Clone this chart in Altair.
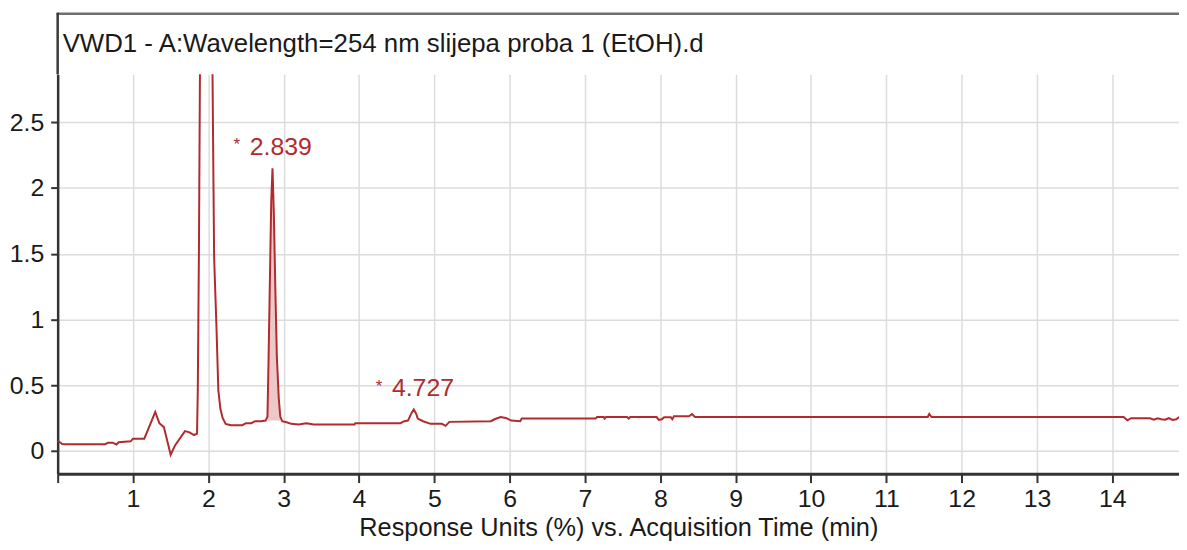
import altair as alt
import pandas as pd

# ---- data ----
time_min = [0.00, 0.03, 0.06, 0.10, 0.30, 0.63, 0.67, 0.73, 0.78, 0.81, 0.97, 1.00, 1.15, 1.22,
            1.295, 1.35, 1.41, 1.50, 1.56, 1.69, 1.75, 1.81, 1.85,
            1.86, 1.875, 1.89, 1.93, 1.98, 2.03, 2.055, 2.077, 2.107, 2.133, 2.16, 2.19, 2.23,
            2.30, 2.45, 2.50, 2.57, 2.62, 2.70, 2.76, 2.785, 2.80, 2.815, 2.835, 2.852, 2.87,
            2.89, 2.91, 2.935, 2.955, 2.98, 3.05, 3.10, 3.20, 3.30, 3.40, 3.94, 3.95, 4.55,
            4.60, 4.65, 4.70, 4.727, 4.76, 4.78, 4.85, 4.95, 5.10, 5.15, 5.20, 5.75, 5.80,
            5.88, 5.95, 6.02, 6.14, 6.16, 7.14, 7.16, 7.25, 7.26, 7.28, 7.56, 7.58, 7.60,
            7.95, 7.98, 8.02, 8.05, 8.14, 8.16, 8.18, 8.38, 8.42, 8.46, 11.55, 11.57, 11.60,
            14.15, 14.20, 14.25, 14.50, 14.55, 14.60, 14.65, 14.70, 14.75, 14.80, 14.85, 14.885]
response = [0.075, 0.065, 0.052, 0.05, 0.05, 0.05, 0.062, 0.062, 0.048, 0.065, 0.072, 0.092, 0.092, 0.19,
            0.295, 0.21, 0.18, -0.03, 0.043, 0.15, 0.14, 0.12, 0.13,
            0.45, 1.5, 3.0, 5.5, 7.0, 5.0, 2.9, 1.47, 0.96, 0.46, 0.32, 0.25, 0.205,
            0.195, 0.195, 0.21, 0.21, 0.225, 0.225, 0.23, 0.26, 0.71, 1.22, 1.9, 2.15, 1.8,
            1.22, 0.71, 0.40, 0.26, 0.225, 0.215, 0.205, 0.20, 0.21, 0.20, 0.20, 0.21, 0.21,
            0.225, 0.23, 0.29, 0.315, 0.28, 0.245, 0.225, 0.205, 0.205, 0.19, 0.22, 0.225, 0.24,
            0.257, 0.25, 0.23, 0.225, 0.245, 0.245, 0.257, 0.257, 0.245, 0.257, 0.257, 0.245, 0.257,
            0.257, 0.235, 0.24, 0.255, 0.255, 0.24, 0.262, 0.262, 0.28, 0.257, 0.257, 0.28, 0.257,
            0.257, 0.232, 0.248, 0.248, 0.237, 0.248, 0.24, 0.237, 0.248, 0.235, 0.24, 0.257]

peak_times = [2.839, 4.727]
peak_heights = [2.15, 0.315]
peak_labels = ["2.839", "4.727"]

x_ticks = list(range(0, 15))
y_ticks = [0, 0.5, 1, 1.5, 2, 2.5]

chart_title = "VWD1 - A:Wavelength=254 nm slijepa proba 1 (EtOH).d"
x_title = "Response Units (%) vs. Acquisition Time (min)"

# ---- styling ----
FONT = "Arial, 'Liberation Sans', sans-serif"
RED = "#b02a2e"
W, H = 1129, 402

trace = pd.DataFrame({"t": time_min, "v": response})
peaks = pd.DataFrame({"t": peak_times, "v": peak_heights, "label": peak_labels})
frame = pd.DataFrame({"label": [chart_title]})

xs = alt.Scale(domain=[0, 14.885], nice=False, zero=False)
ys = alt.Scale(domain=[-0.174, 2.865], nice=False, zero=False)

x_axis = alt.Axis(values=x_ticks, format="d",
                  labelExpr="datum.value == 0 ? '' : datum.label",
                  grid=True, gridColor="#dcdcdc", gridWidth=1.5,
                  domainColor="#333333", domainWidth=3, tickColor="#333333", tickWidth=2,
                  tickSize=9, labelFont=FONT, labelFontSize=25, labelColor="#1a1a1a",
                  labelBaseline="alphabetic", labelPadding=24, labelFlush=False,
                  labelOverlap=False, title=x_title, titleFont=FONT, titleFontSize=25.5,
                  titleFontWeight="normal", titleColor="#1a1a1a",
                  titleBaseline="alphabetic", titleY=62)
y_axis = alt.Axis(values=y_ticks, format="~g", grid=True, gridColor="#dcdcdc", gridWidth=1.5,
                  domainColor="#333333", domainWidth=2.5, tickColor="#333333", tickWidth=2,
                  tickSize=7, labelPadding=7, labelFont=FONT, labelFontSize=25,
                  labelColor="#1a1a1a", title=None)

base = alt.Chart(trace)

area = base.transform_filter(
    alt.FieldRangePredicate(field="t", range=[2.785, 2.955])
).transform_calculate(base="0.23").mark_area(color="#ecc8c8", clip=True).encode(
    x=alt.X("t:Q", scale=xs, axis=x_axis),
    y=alt.Y("v:Q", scale=ys, axis=y_axis),
    y2="base:Q",
)

line = base.mark_line(color=RED, strokeWidth=2, clip=True).encode(
    x=alt.X("t:Q", scale=xs, axis=x_axis),
    y=alt.Y("v:Q", scale=ys, axis=y_axis),
)

num = alt.Chart(peaks).mark_text(color=RED, font=FONT, fontSize=25, align="left",
                                  baseline="alphabetic", dx=-22, dy=-13).encode(
    x=alt.X("t:Q", scale=xs), y=alt.Y("v:Q", scale=ys), text="label:N")
star = alt.Chart(peaks).mark_text(color=RED, font=FONT, fontSize=17, align="center",
                                   baseline="alphabetic", dx=-35, dy=-18, text="*").encode(
    x=alt.X("t:Q", scale=xs), y=alt.Y("v:Q", scale=ys))

title_txt = alt.Chart(frame).mark_text(font=FONT, fontSize=26, color="#1a1a1a", align="left",
                                        baseline="alphabetic").encode(
    x=alt.value(5), y=alt.value(-23), text="label:N")
top_border = alt.Chart(frame).mark_rule(color="#6e6e6e", strokeWidth=2.5).encode(
    x=alt.value(-1), x2=alt.value(W), y=alt.value(-61))
left_border = alt.Chart(frame).mark_rule(color="#3a3a3a", strokeWidth=2.5).encode(
    x=alt.value(0), y=alt.value(-62), y2=alt.value(0))

chart = alt.layer(area, line, num, star, title_txt, top_border, left_border).properties(
    width=W, height=H, autosize="none",
    padding={"left": 50, "top": 65, "right": 0, "bottom": 67},
    background="white",
).configure_view(stroke=None)

chart.save("out.html", embed_options={"renderer": "svg", "actions": False})
